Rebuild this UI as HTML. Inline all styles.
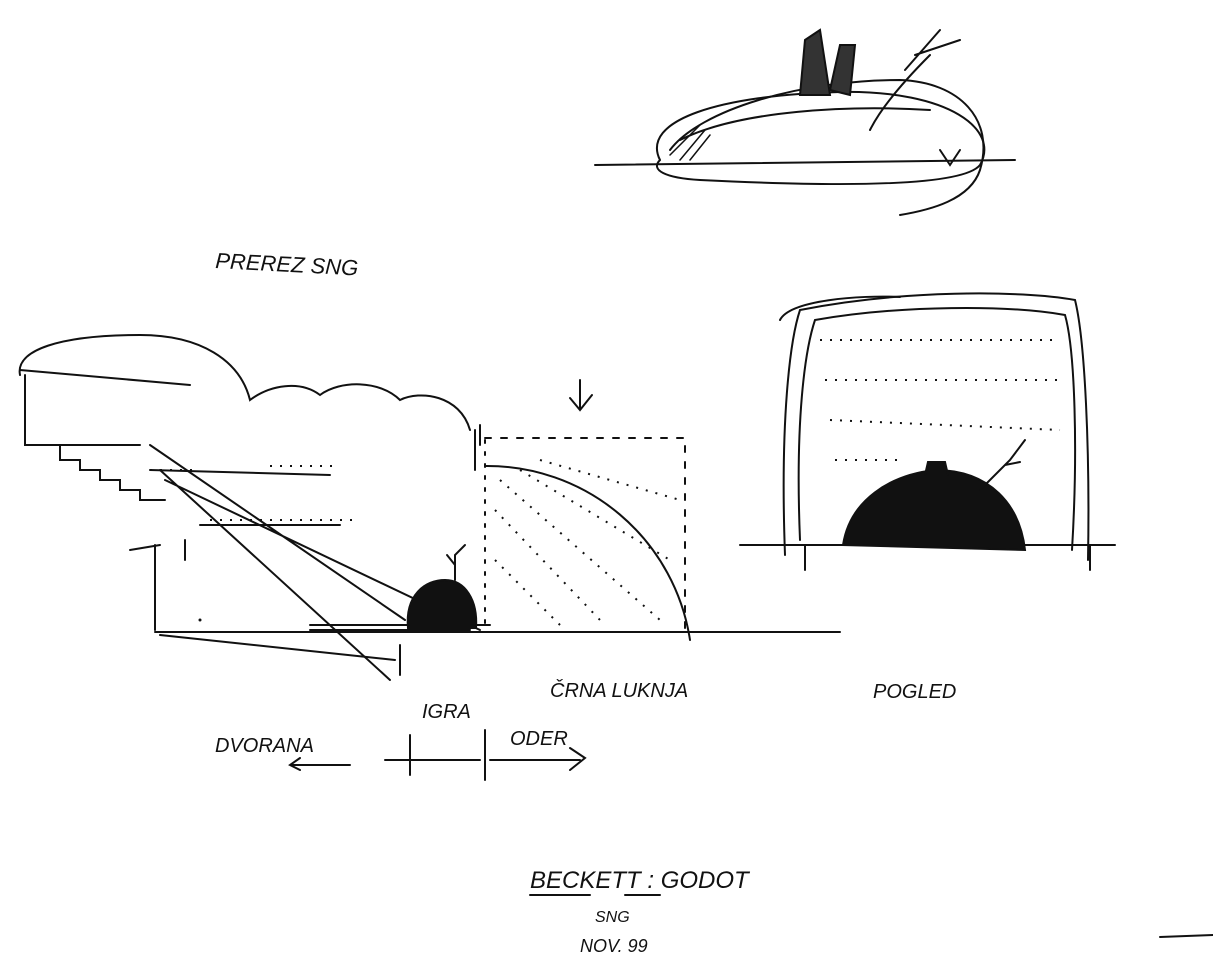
<!DOCTYPE html>
<html><head><meta charset="utf-8"><style>
html,body{margin:0;padding:0;background:#fff;}
svg{display:block}
text{font-family:"Liberation Sans",sans-serif;fill:#111;}
</style></head><body>
<svg width="1213" height="976" viewBox="0 0 1213 976" xmlns="http://www.w3.org/2000/svg">
<g fill="none" stroke="#111" stroke-width="2" stroke-linecap="round">
<path d="M595 165 L1015 160"/>
<path d="M660 160 C640 120 720 95 840 92 C950 90 1000 130 980 165 C960 190 800 185 700 180 C665 178 650 170 660 160"/>
<path d="M670 150 C700 110 800 80 900 80 C960 82 995 120 980 170 C970 200 930 210 900 215"/>
<path d="M680 140 C740 110 850 105 930 110"/>
<path d="M870 130 C880 110 900 85 930 55 M905 70 L940 30 M915 55 L960 40"/>
<path d="M940 150 L950 165 L960 150"/>
<path d="M800 95 L805 40 L820 30 L830 95 Z M830 90 L840 45 L855 45 L850 95 Z" fill="#333"/>
<path d="M670 155 L700 125 M680 160 L705 130 M690 160 L710 135" stroke-width="1.5"/>
<path d="M20 375 C15 350 60 335 140 335 C200 335 240 360 250 400 C270 385 300 380 320 395 C340 380 380 380 400 400 C420 390 460 395 470 430"/>
<path d="M20 370 L190 385"/>
<path d="M25 375 L25 445 L140 445"/>
<path d="M60 445 L60 460 L80 460 L80 470 L100 470 L100 480 L120 480 L120 490 L140 490 L140 500 L165 500"/>
<path d="M155 545 L155 630"/>
<path d="M130 550 L160 545 M185 540 L185 560"/>
<path d="M150 470 L330 475 M200 525 L340 525"/>
<path d="M150 445 L405 620 M160 470 L390 680 M165 480 L480 630"/>
<path d="M155 632 L840 632"/>
<path d="M160 635 L395 660 M400 645 L400 675"/>
<path d="M310 625 L490 625 M310 630 L470 630"/>
<path d="M475 430 L475 470 M480 425 L480 445"/>
<path d="M408 628 C405 595 425 580 445 580 C465 580 478 600 476 628 Z" fill="#111"/>
<path d="M455 580 L455 555 L465 545 M455 565 L447 555"/>
<path d="M485 466 A205 205 0 0 1 690 640"/>
<path d="M485 438 L685 438 L685 632" stroke-dasharray="6 10"/>
<path d="M485 440 L485 632" stroke-dasharray="3 9"/>
<path d="M580 380 L580 410 M570 398 L580 410 L592 395"/>
<path d="M740 545 L1115 545"/>
<path d="M805 545 L805 570 M1090 545 L1090 570"/>
<path d="M785 555 C780 420 790 340 800 310 C900 290 1020 290 1075 300 C1085 340 1090 450 1088 560"/>
<path d="M800 540 C795 420 805 350 815 320 C900 305 1010 305 1065 315 C1075 350 1078 450 1072 550"/>
<path d="M780 320 C790 300 860 295 900 297"/>
<path d="M843 545 C850 500 890 475 935 470 C990 470 1020 505 1025 550 Z" fill="#111"/>
<path d="M925 475 L928 462 L945 462 L948 475" fill="#111"/>
<path d="M980 490 L1010 460 L1025 440 M1005 465 L1020 462"/>
<path d="M290 765 L350 765 M300 758 L290 765 L300 770 M385 760 L480 760 M410 735 L410 775 M485 730 L485 780 M490 760 L580 760"/>
<path d="M570 748 L585 758 L570 770"/>
<path d="M1160 937 L1213 935"/>
<path d="M530 895 L590 895 M625 895 L660 895"/>
</g>
<g stroke="#111" stroke-width="2" stroke-dasharray="2 8" fill="none">
<path d="M500 480 L660 620 M520 470 L670 560 M495 510 L600 620 M540 460 L680 500 M495 560 L560 625"/>
<path d="M820 340 L1060 340 M825 380 L1060 380 M830 420 L1060 430 M835 460 L900 460"/>
<path d="M270 466 L340 466 M210 520 L360 520 M150 470 L200 470"/>
</g>
<g fill="#111"><circle cx="200" cy="620" r="1.5"/></g>
<g font-size="22" font-style="italic">
<text x="215" y="268" transform="rotate(3 215 268)">PREREZ SNG</text>
<text x="550" y="697" font-size="20">ČRNA LUKNJA</text>
<text x="873" y="698" font-size="20">POGLED</text>
<text x="215" y="752" font-size="20">DVORANA</text>
<text x="422" y="718" font-size="20">IGRA</text>
<text x="510" y="745" font-size="20">ODER</text>
<text x="530" y="888" font-size="24">BECKETT : GODOT</text>
<text x="595" y="922" font-size="16">SNG</text>
<text x="580" y="952" font-size="18">NOV. 99</text>
</g>
</svg>
</body></html>
